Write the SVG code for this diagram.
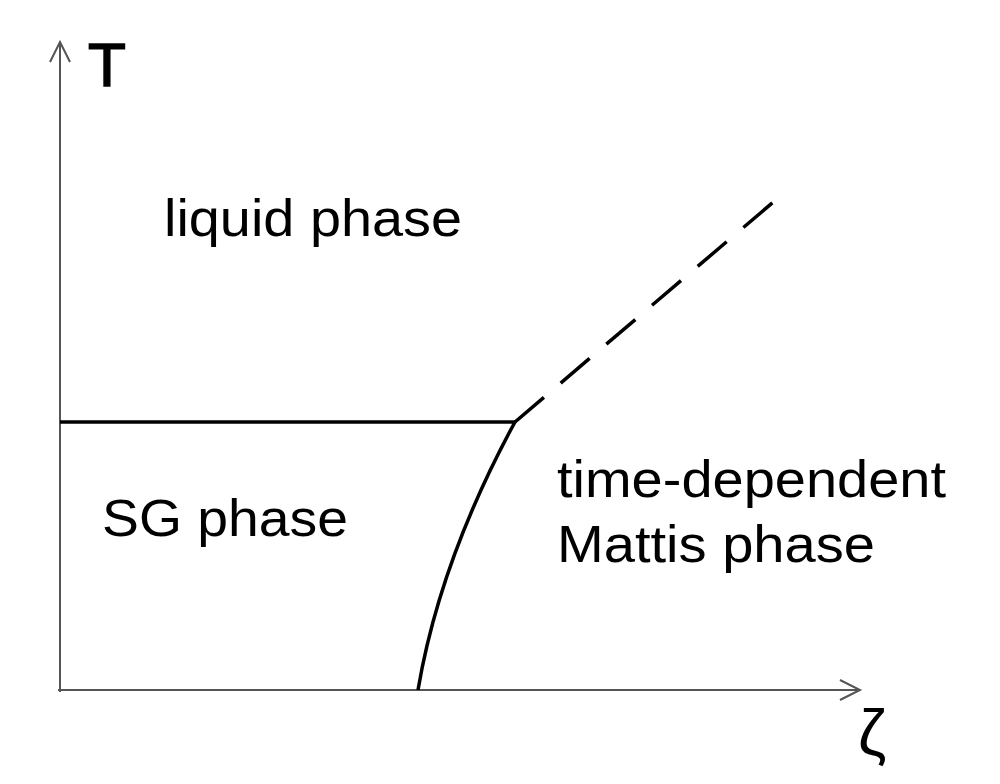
<svg xmlns="http://www.w3.org/2000/svg" width="1000" height="784" viewBox="0 0 1000 784">
<style>
.ax{stroke:#555;stroke-width:2;fill:none}
.ln{stroke:#000;stroke-width:3.5;fill:none}
.t{font-family:"Liberation Sans",Arial,sans-serif;fill:#000}
</style>
<rect width="1000" height="784" fill="#fff"/>
<g id="connectors">
<path class="ax" d="M60 692 V42 M50 62 L60 42 L70 62"/>
<path class="ax" d="M58 690 H860 M840 680 L860 690 L840 700"/>
<path class="ln" d="M60 422 H515"/>
<path class="ln" d="M515 422 Q440 560 418 690"/>
<path class="ln" d="M515 422 L778 198" stroke-dasharray="38 22"/>
</g>
<g id="T"><text class="t" x="88" y="86" font-size="62" stroke="#000" stroke-width="1.5">T</text></g>
<g id="zeta"><text class="t" x="858" y="755" font-size="64" font-family="DejaVu Serif,serif">ζ</text></g>
<g id="liquid"><text class="t" x="164" y="236" font-size="52" textLength="298" lengthAdjust="spacingAndGlyphs">liquid phase</text></g>
<g id="sg"><text class="t" x="102" y="536" font-size="52" textLength="246" lengthAdjust="spacingAndGlyphs">SG phase</text></g>
<g id="mattis"><text class="t" x="557" y="497" font-size="52" textLength="389" lengthAdjust="spacingAndGlyphs">time-dependent</text><text class="t" x="557" y="562" font-size="52" textLength="318" lengthAdjust="spacingAndGlyphs">Mattis phase</text></g>
</svg>
